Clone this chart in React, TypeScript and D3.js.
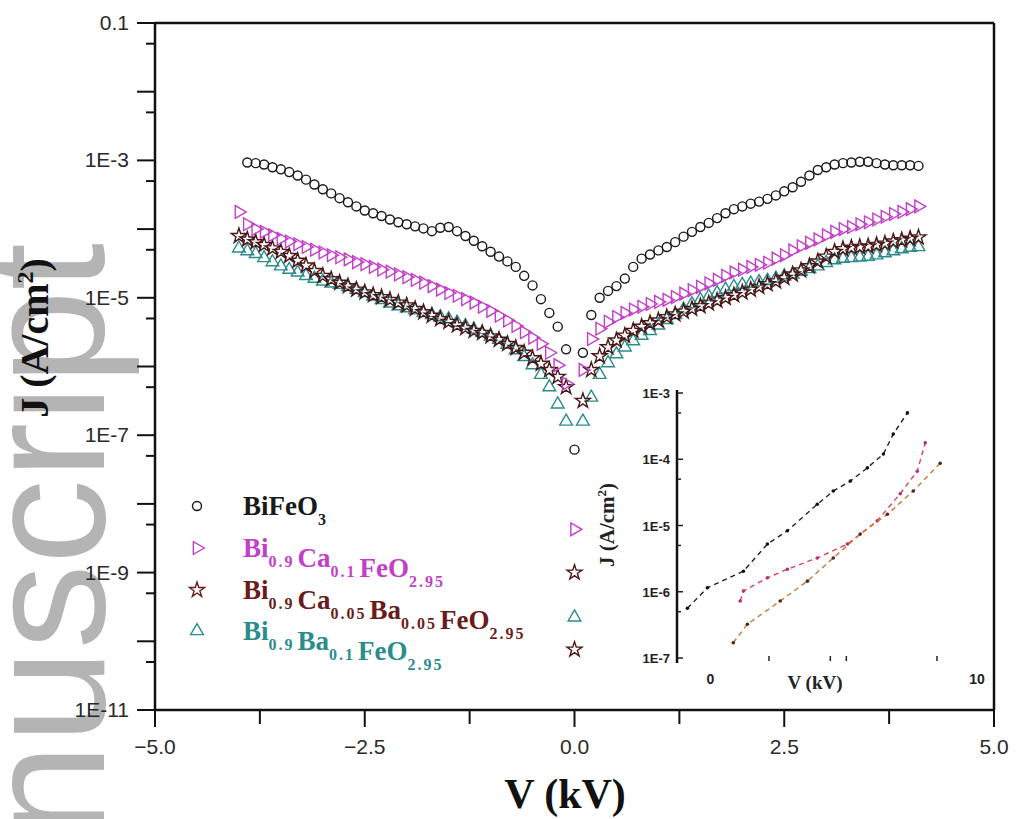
import * as d3 from "d3";

// bias voltage, kV (shared by the four main curves)
const volts = [
  -4.0, -3.9, -3.8, -3.7, -3.6, -3.5, -3.4, -3.3, -3.2, -3.1, -3.0, -2.9, -2.8, -2.7,
  -2.6, -2.5, -2.4, -2.3, -2.2, -2.1, -2.0, -1.9, -1.8, -1.7, -1.6, -1.5, -1.4, -1.3,
  -1.2, -1.1, -1.0, -0.9, -0.8, -0.7, -0.6, -0.5, -0.4, -0.3, -0.2, -0.1, 0.0,
  0.1, 0.2, 0.3, 0.4, 0.5, 0.6, 0.7, 0.8, 0.9, 1.0, 1.1, 1.2, 1.3, 1.4, 1.5, 1.6,
  1.7, 1.8, 1.9, 2.0, 2.1, 2.2, 2.3, 2.4, 2.5, 2.6, 2.7, 2.8, 2.9, 3.0, 3.1, 3.2,
  3.3, 3.4, 3.5, 3.6, 3.7, 3.8, 3.9, 4.0, 4.1,
];

// log10 of J (A/cm2)
const bfoLogJ = [
  null, -3.03, -3.04, -3.06, -3.10, -3.13, -3.17, -3.22, -3.28, -3.35, -3.42, -3.48,
  -3.55, -3.61, -3.67, -3.73, -3.77, -3.81, -3.86, -3.90, -3.93, -3.96, -3.99, -4.03,
  -3.98, -3.97, -4.03, -4.10, -4.17, -4.25, -4.33, -4.40, -4.47, -4.55, -4.68, -4.82,
  -5.02, -5.22, -5.42, -5.75, -7.21,
  -5.80, -5.25, -5.00, -4.90, -4.83, -4.72, -4.55, -4.43, -4.37, -4.31, -4.26, -4.19,
  -4.11, -4.04, -3.97, -3.91, -3.84, -3.77, -3.71, -3.67, -3.63, -3.60, -3.56, -3.51,
  -3.45, -3.39, -3.31, -3.22, -3.14, -3.10, -3.06, -3.04, -3.03, -3.02, -3.02, -3.04,
  -3.06, -3.07, -3.07, -3.07, -3.08,
];

const caLogJ = [
  -3.75, -3.93, -4.00, -4.04, -4.09, -4.14, -4.18, -4.22, -4.26, -4.30, -4.34, -4.38,
  -4.41, -4.44, -4.48, -4.51, -4.55, -4.59, -4.62, -4.66, -4.70, -4.74, -4.78, -4.83,
  -4.88, -4.93, -4.97, -5.02, -5.07, -5.13, -5.19, -5.26, -5.33, -5.41, -5.50, -5.58,
  -5.67, -5.80, -5.98, -6.25, -8.37,
  -6.05, -5.60, -5.45, -5.35, -5.28, -5.22, -5.17, -5.13, -5.09, -5.06, -5.03, -4.99,
  -4.94, -4.89, -4.84, -4.79, -4.74, -4.68, -4.63, -4.59, -4.55, -4.52, -4.49, -4.43,
  -4.38, -4.31, -4.25, -4.20, -4.15, -4.09, -4.04, -4.00, -3.97, -3.93, -3.90, -3.86,
  -3.82, -3.78, -3.75, -3.71, -3.67,
];

const caBaLogJ = [
  -4.10, -4.15, -4.19, -4.23, -4.28, -4.33, -4.39, -4.46, -4.53, -4.61, -4.68, -4.73,
  -4.78, -4.83, -4.88, -4.92, -4.96, -4.99, -5.03, -5.07, -5.11, -5.16, -5.21, -5.26,
  -5.31, -5.35, -5.40, -5.44, -5.48, -5.51, -5.56, -5.61, -5.67, -5.73, -5.80, -5.88,
  -5.96, -6.05, -6.15, -6.30, -9.00,
  -6.50, -6.05, -5.85, -5.72, -5.62, -5.55, -5.48, -5.42, -5.37, -5.33, -5.28, -5.24,
  -5.20, -5.16, -5.12, -5.08, -5.04, -5.00, -4.96, -4.92, -4.88, -4.84, -4.80, -4.76,
  -4.71, -4.66, -4.60, -4.54, -4.47, -4.40, -4.33, -4.29, -4.27, -4.26, -4.25, -4.23,
  -4.21, -4.18, -4.16, -4.14, -4.12,
];

const baLogJ = [
  -4.28, -4.32, -4.36, -4.42, -4.48, -4.54, -4.59, -4.63, -4.68, -4.72, -4.76, -4.79,
  -4.81, -4.84, -4.88, -4.93, -4.98, -5.03, -5.08, -5.12, -5.15, -5.18, -5.22, -5.25,
  -5.28, -5.31, -5.36, -5.41, -5.46, -5.51, -5.56, -5.61, -5.68, -5.76, -5.86, -5.98,
  -6.12, -6.30, -6.55, -6.80, -9.65,
  -6.80, -6.45, -6.12, -5.95, -5.82, -5.72, -5.63, -5.55, -5.48, -5.40, -5.32, -5.25,
  -5.17, -5.09, -5.03, -4.98, -4.93, -4.88, -4.84, -4.81, -4.79, -4.77, -4.75, -4.72,
  -4.69, -4.66, -4.62, -4.58, -4.54, -4.49, -4.45, -4.43, -4.42, -4.41, -4.40, -4.38,
  -4.35, -4.32, -4.29, -4.27, -4.26,
];

// one stray low point near zero bias
const extraV = [0.0];
const extraLogJ = [-10.12];

// inset (right-hand fits)
const insetBfoV = [-0.86, -0.11, 1.24, 2.14, 2.89, 4.01, 4.61, 5.25, 5.89, 6.49, 6.86, 7.39];
const insetBfoLogJ = [-6.25, -5.94, -5.69, -5.28, -5.08, -4.68, -4.48, -4.33, -4.13, -3.92, -3.62, -3.30];
const insetCaV = [1.12, 1.24, 2.14, 2.89, 4.01, 5.14, 6.26, 7.12, 7.76, 8.06];
const insetCaLogJ = [-6.14, -5.99, -5.79, -5.66, -5.49, -5.28, -4.93, -4.52, -4.18, -3.75];
const insetBaV = [0.86, 1.39, 2.62, 3.64, 4.61, 5.62, 6.64, 7.61, 8.62];
const insetBaLogJ = [-6.77, -6.49, -6.14, -5.84, -5.49, -5.13, -4.83, -4.48, -4.06];

const xTicks = [-5.0, -2.5, 0.0, 2.5, 5.0];
const xMinorTicks = [-3.75, -1.25, 1.25, 3.75];
const yLabels = ["1E-11", "1E-9", "1E-7", "1E-5", "1E-3", "0.1"];
const yLabelValues = [1e-11, 1e-9, 1e-7, 1e-5, 1e-3, 1e-1];
const insetYLabels = ["1E-7", "1E-6", "1E-5", "1E-4", "1E-3"];
const insetYValues = [1e-7, 1e-6, 1e-5, 1e-4, 1e-3];
const insetXTicks = [2.2, 4.5, 5.1, 8.5];

const SANS = "'Liberation Sans', Arial, sans-serif";
const SERIF = "'Liberation Serif', 'Times New Roman', serif";

const toPoints = (vs, logs) =>
  vs
    .map((v, i) => ({ v, j: logs[i] == null ? null : Math.pow(10, logs[i]) }))
    .filter((d) => d.j != null);

export default function App() {
  const x = d3.scaleLinear().domain([-5, 5]).range([155, 994]);
  const y = d3.scaleLog().domain([1e-11, 0.1]).range([710, 23]);

  const ix = d3.scaleLinear().domain([-1.25, 10]).range([677, 977]);
  const iy = d3.scaleLog().domain([1e-7, 1e-3]).range([658, 393]);

  const circle = d3.symbol().type(d3.symbolCircle).size(64)();
  const tri = d3.symbol().type(d3.symbolTriangle).size(70)();
  const star = d3.symbol().type(d3.symbolStar).size(70)();

  const series = [
    { name: "ba", pts: toPoints(volts, baLogJ), path: tri, rot: 0, color: "#2b8c8c" },
    { name: "caba", pts: toPoints(volts, caBaLogJ).concat(toPoints(extraV, extraLogJ)), path: star, rot: 0, color: "#4a1818" },
    { name: "ca", pts: toPoints(volts, caLogJ), path: tri, rot: 90, color: "#c23fc8" },
    { name: "bfo", pts: toPoints(volts, bfoLogJ), path: circle, rot: 0, color: "#1a1a1a" },
  ];

  const majorDecades = d3.range(-11, 0).map((e) => Math.pow(10, e));
  const minorFives = d3.range(-11, -1).map((e) => 5 * Math.pow(10, e));
  const insetMinor = d3.range(-7, -3).map((e) => 5 * Math.pow(10, e));

  const insetLine = d3
    .line()
    .x((d) => ix(d.v))
    .y((d) => iy(d.j));

  const insetSeries = [
    { pts: toPoints(insetBfoV, insetBfoLogJ), line: "#222", dot: "#111" },
    { pts: toPoints(insetCaV, insetCaLogJ), line: "#e0405a", dot: "#b0307a" },
    { pts: toPoints(insetBaV, insetBaLogJ), line: "#c9792e", dot: "#4a2a20" },
  ];

  const legend = [
    { path: circle, rot: 0, color: "#1a1a1a", parts: [["BiFeO", "3"]] },
    { path: tri, rot: 90, color: "#c23fc8", parts: [["Bi", "0.9"], ["Ca", "0.1"], ["FeO", "2.95"]] },
    { path: star, rot: 0, color: "#6a1c1c", parts: [["Bi", "0.9"], ["Ca", "0.05"], ["Ba", "0.05"], ["FeO", "2.95"]] },
    { path: tri, rot: 0, color: "#2b8c8c", parts: [["Bi", "0.9"], ["Ba", "0.1"], ["FeO", "2.95"]] },
  ];
  const legendRows = [506, 548, 590, 631];

  return (
    <svg
      width={1018}
      height={819}
      style={{ position: "absolute", left: 0, top: 0, background: "#fff" }}
    >
      {/* watermark */}
      <text
        transform="translate(104,243) rotate(-90)"
        textAnchor="end"
        fontFamily={SANS}
        fontSize={170}
        fill="#b4b4b4"
      >
        nuscript
      </text>

      {/* frame */}
      <g stroke="#111" strokeWidth={2.5} fill="none">
        <line x1={155} x2={994} y1={23} y2={23} />
        <line x1={994} x2={994} y1={23} y2={710} />
        <line x1={155} x2={155} y1={22} y2={711} />
        <line x1={154} x2={995} y1={710} y2={710} />
      </g>

      {/* y ticks */}
      <g stroke="#111" strokeWidth={2}>
        {majorDecades.concat([0.1]).map((v, i) => (
          <line key={"M" + i} x1={137} x2={155} y1={y(v)} y2={y(v)} />
        ))}
        {minorFives.map((v, i) => (
          <line key={"m" + i} x1={146} x2={155} y1={y(v)} y2={y(v)} />
        ))}
      </g>
      {yLabels.map((lab, i) => (
        <text
          key={lab}
          x={129}
          y={y(yLabelValues[i]) + 7}
          textAnchor="end"
          fontFamily={SANS}
          fontSize={21}
          fill="#2a2a2a"
        >
          {lab}
        </text>
      ))}

      {/* x ticks */}
      <g stroke="#111" strokeWidth={2}>
        {xTicks.map((v) => (
          <line key={"X" + v} x1={x(v)} x2={x(v)} y1={710} y2={727} />
        ))}
        {xMinorTicks.map((v) => (
          <line key={"x" + v} x1={x(v)} x2={x(v)} y1={710} y2={724} />
        ))}
      </g>
      {xTicks.map((v) => (
        <text
          key={"xl" + v}
          x={x(v)}
          y={754}
          textAnchor="middle"
          fontFamily={SANS}
          fontSize={21}
          fill="#2a2a2a"
        >
          {d3.format(".1f")(v)}
        </text>
      ))}

      {/* axis titles */}
      <text
        x={565}
        y={808}
        textAnchor="middle"
        fontFamily={SERIF}
        fontWeight="bold"
        fontSize={42}
        fill="#111"
      >
        V (kV)
      </text>
      <text
        transform="translate(48,338) rotate(-90)"
        textAnchor="middle"
        fontFamily={SERIF}
        fontWeight="bold"
        fontSize={40}
        fill="#111"
      >
        J (A/cm
        <tspan dy={-15} fontSize={24}>2</tspan>
        <tspan dy={15}>)</tspan>
      </text>

      {/* data */}
      {series.map((s) => (
        <g key={s.name} fill="none" stroke={s.color} strokeWidth={1.4}>
          {s.pts.map((d, i) => (
            <path
              key={i}
              d={s.path}
              transform={`translate(${x(d.v)},${y(d.j)}) rotate(${s.rot})`}
            />
          ))}
        </g>
      ))}

      {/* legend */}
      {legend.map((l, i) => (
        <g key={i}>
          <path
            d={l.path}
            transform={`translate(197,${legendRows[i]}) rotate(${l.rot})`}
            fill="none"
            stroke={l.color}
            strokeWidth={1.4}
          />
          <text
            x={243}
            y={legendRows[i] + 9}
            fontFamily={SERIF}
            fontWeight="bold"
            fontSize={27}
            fill={l.color}
          >
            {l.parts.map((p, k) => [
              <tspan key={"a" + k} dx={k === 0 ? 0 : 3}>{p[0]}</tspan>,
              <tspan key={"b" + k} dy={10} fontSize={16} letterSpacing={2}>
                {p[1]}
              </tspan>,
              <tspan key={"c" + k} dy={-10}>{""}</tspan>,
            ])}
          </text>
        </g>
      ))}

      {/* inset */}
      <line x1={677} x2={677} y1={390} y2={663} stroke="#111" strokeWidth={2.5} />
      <g stroke="#222" strokeWidth={1.5}>
        {insetYValues.map((v) => (
          <line key={"iM" + v} x1={677} x2={683} y1={iy(v)} y2={iy(v)} />
        ))}
        {insetMinor.map((v) => (
          <line key={"im" + v} x1={677} x2={681} y1={iy(v)} y2={iy(v)} />
        ))}
        {insetXTicks.map((v) => (
          <line key={"ix" + v} x1={ix(v)} x2={ix(v)} y1={656} y2={661} />
        ))}
      </g>
      {insetYLabels.map((lab, i) => (
        <text
          key={lab}
          x={670}
          y={iy(insetYValues[i]) + 5}
          textAnchor="end"
          fontFamily={SANS}
          fontWeight="bold"
          fontSize={13}
          fill="#222"
        >
          {lab}
        </text>
      ))}
      {[0, 10].map((v) => (
        <text
          key={"ixl" + v}
          x={ix(v)}
          y={684}
          textAnchor="middle"
          fontFamily={SANS}
          fontWeight="bold"
          fontSize={14}
          fill="#222"
        >
          {v}
        </text>
      ))}
      <text
        x={815}
        y={689}
        textAnchor="middle"
        fontFamily={SERIF}
        fontWeight="bold"
        fontSize={19}
        fill="#222"
      >
        V (kV)
      </text>
      <text
        transform="translate(614,525) rotate(-90)"
        textAnchor="middle"
        fontFamily={SERIF}
        fontWeight="bold"
        fontSize={21}
        fill="#222"
      >
        J (A/cm
        <tspan dy={-8} fontSize={13}>2</tspan>
        <tspan dy={8}>)</tspan>
      </text>
      {insetSeries.map((s, k) => (
        <g key={"is" + k}>
          <path
            d={insetLine(s.pts)}
            fill="none"
            stroke={s.line}
            strokeWidth={1.4}
            strokeDasharray="5,4"
          />
          {s.pts.map((d, i) => (
            <circle key={i} cx={ix(d.v)} cy={iy(d.j)} r={1.8} fill={s.dot} />
          ))}
        </g>
      ))}
    </svg>
  );
}
